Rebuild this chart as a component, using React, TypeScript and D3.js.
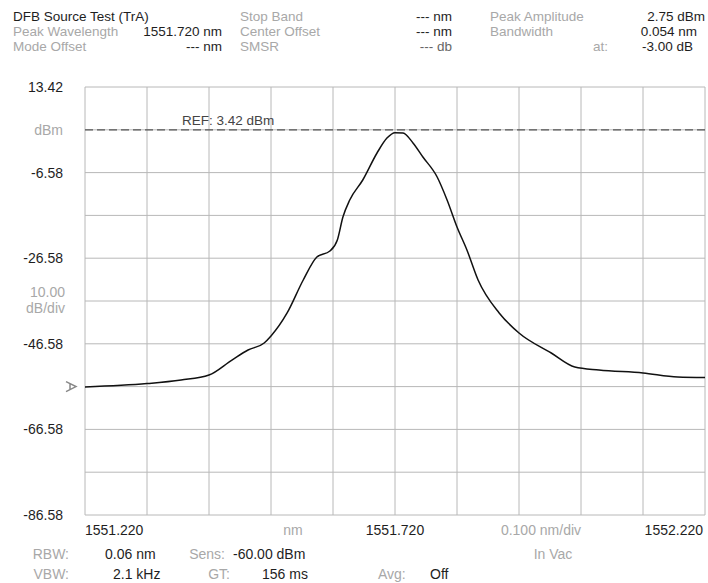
import React from "react";
import * as d3 from "d3";

// ---- data ----
const wavelengths = [
  1551.22, 1551.32, 1551.375, 1551.42, 1551.457, 1551.483, 1551.509, 1551.52,
  1551.546, 1551.572, 1551.594, 1551.615, 1551.627, 1551.636, 1551.647, 1551.668,
  1551.691, 1551.707, 1551.72, 1551.733, 1551.749, 1551.765, 1551.788, 1551.804,
  1551.82, 1551.836, 1551.854, 1551.888, 1551.92, 1551.972, 1552.01, 1552.049,
  1552.12, 1552.176, 1552.22,
];
const powers = [
  -56.67, -55.88, -55.04, -53.87, -50.37, -48.03, -46.39, -44.76,
  -39.38, -31.67, -26.3, -24.9, -22.33, -16.95, -12.98, -8.31,
  -2.0, 1.5, 2.75, 2.67, 0.34, -2.93, -7.61, -12.98,
  -19.29, -24.66, -31.67, -39.38, -44.06, -48.73, -52.0, -52.7,
  -53.4, -54.34, -54.45,
];
const yTickValues = [13.42, -6.58, -26.58, -46.58, -66.58, -86.58];
const yTickLabels = ["13.42", "-6.58", "-26.58", "-46.58", "-66.58", "-86.58"];
const refLevel = 3.42;
const xMin = 1551.22;
const xMax = 1552.22;
const yMin = -86.58;
const yMax = 13.42;
const divisions = 10;

const headerLeft = [
  { label: "DFB Source Test (TrA)", value: "" },
  { label: "Peak Wavelength", value: "1551.720 nm" },
  { label: "Mode Offset", value: "--- nm" },
];
const headerMid = [
  { label: "Stop Band", value: "--- nm" },
  { label: "Center Offset", value: "--- nm" },
  { label: "SMSR", value: "--- db" },
];
const headerRight = [
  { label: "Peak Amplitude", value: "2.75 dBm" },
  { label: "Bandwidth", value: "0.054 nm" },
  { label: "at:", value: "-3.00 dB" },
];

const W = 708;
const H = 583;
const L = 85, R = 705, T = 87, B = 515;
const FONT = "'Liberation Sans', Arial, sans-serif";
const DARK = "#1e1e1e";
const GREY = "#a8a8a8";
const GRID = "#b8b8b8";

export default function App() {
  const x = d3.scaleLinear().domain([xMin, xMax]).range([L, R]);
  const y = d3.scaleLinear().domain([yMin, yMax]).range([B, T]);
  const xGrid = d3.range(divisions + 1).map((i) => xMin + ((xMax - xMin) * i) / divisions);
  const yGrid = d3.range(divisions + 1).map((i) => yMin + ((yMax - yMin) * i) / divisions);
  const pts: [number, number][] = wavelengths.map((w, i) => [w, powers[i]]);
  const line = d3
    .line<[number, number]>()
    .x((d) => x(d[0]))
    .y((d) => y(d[1]))
    .curve(d3.curveMonotoneX);

  const fs = 14;
  const hfs = 13.5;
  const rowY = [21, 36, 51];
  const botY = [559, 579];
  const mk = y(-56.58);

  return (
    <svg
      width={W}
      height={H}
      style={{ position: "absolute", left: 0, top: 0, background: "#fff" }}
      fontFamily={FONT}
      fontSize={fs}
    >
      <rect x={0} y={0} width={W} height={H} fill="#fff" />
      {/* header */}
      <g fontSize={hfs}>
        <text x={13} y={rowY[0]} fill={DARK}>{headerLeft[0].label}</text>
        <text x={13} y={rowY[1]} fill={GREY}>{headerLeft[1].label}</text>
        <text x={222} y={rowY[1]} fill={DARK} textAnchor="end">{headerLeft[1].value}</text>
        <text x={13} y={rowY[2]} fill={GREY}>{headerLeft[2].label}</text>
        <text x={222} y={rowY[2]} fill={DARK} textAnchor="end">{headerLeft[2].value}</text>
        {headerMid.map((h, i) => (
          <g key={"m" + i}>
            <text x={240} y={rowY[i]} fill={GREY}>{h.label}</text>
            <text x={452} y={rowY[i]} fill={i === 2 ? "#666" : DARK} textAnchor="end">{h.value}</text>
          </g>
        ))}
        {headerRight.map((h, i) => (
          <g key={"r" + i}>
            <text x={i === 2 ? 593 : 490} y={rowY[i]} fill={GREY}>{h.label}</text>
            <text x={[705, 697, 693][i]} y={rowY[i]} fill={DARK} textAnchor="end">{h.value}</text>
          </g>
        ))}
      </g>

      {/* grid */}
      {xGrid.map((g, i) => (
        <line key={"xg" + i} x1={x(g)} x2={x(g)} y1={T} y2={B} stroke={GRID} strokeWidth={1} />
      ))}
      {yGrid.map((g, i) => (
        <line key={"yg" + i} x1={L} x2={R} y1={y(g)} y2={y(g)} stroke={GRID} strokeWidth={1} />
      ))}

      {/* y labels */}
      {yTickValues.map((v, i) => (
        <text key={"yt" + i} x={63} y={y(v) + 5} fill={DARK} textAnchor="end">{yTickLabels[i]}</text>
      ))}
      <text x={63} y={y(refLevel) + 5} fill={GREY} textAnchor="end">dBm</text>
      <text x={65} y={297} fill={GREY} textAnchor="end">10.00</text>
      <text x={65} y={313} fill={GREY} textAnchor="end">dB/div</text>
      {/* marker */}
      <path
        d={`M${66},${mk - 5} L${76},${mk} L${66},${mk + 5} M${70},${mk - 3} L${70},${mk + 3}`}
        fill="none"
        stroke="#888"
        strokeWidth={1.5}
      />

      {/* reference line */}
      <line x1={L} x2={R} y1={y(refLevel)} y2={y(refLevel)} stroke="#555" strokeWidth={1.3} strokeDasharray="8,4" />
      <text x={182} y={125} fill="#444" fontSize={13.5}>REF: 3.42 dBm</text>

      {/* trace */}
      <path d={line(pts) || ""} fill="none" stroke="#111" strokeWidth={1.5} />

      {/* x labels */}
      <text x={85} y={535} fill={DARK}>1551.220</text>
      <text x={293} y={535} fill={GREY} textAnchor="middle">nm</text>
      <text x={x((xMin + xMax) / 2)} y={535} fill={DARK} textAnchor="middle">1551.720</text>
      <text x={541} y={535} fill={GREY} textAnchor="middle">0.100 nm/div</text>
      <text x={703} y={535} fill={DARK} textAnchor="end">1552.220</text>

      {/* bottom info */}
      <text x={69} y={botY[0]} fill={GREY} textAnchor="end">RBW:</text>
      <text x={105} y={botY[0]} fill={DARK}>0.06 nm</text>
      <text x={225} y={botY[0]} fill={GREY} textAnchor="end">Sens:</text>
      <text x={233} y={botY[0]} fill={DARK}>-60.00 dBm</text>
      <text x={553} y={botY[0]} fill={GREY} textAnchor="middle">In Vac</text>
      <text x={69} y={botY[1]} fill={GREY} textAnchor="end">VBW:</text>
      <text x={113} y={botY[1]} fill={DARK}>2.1 kHz</text>
      <text x={230} y={botY[1]} fill={GREY} textAnchor="end">GT:</text>
      <text x={262} y={botY[1]} fill={DARK}>156 ms</text>
      <text x={378} y={botY[1]} fill={GREY}>Avg:</text>
      <text x={430} y={botY[1]} fill={DARK}>Off</text>
    </svg>
  );
}
